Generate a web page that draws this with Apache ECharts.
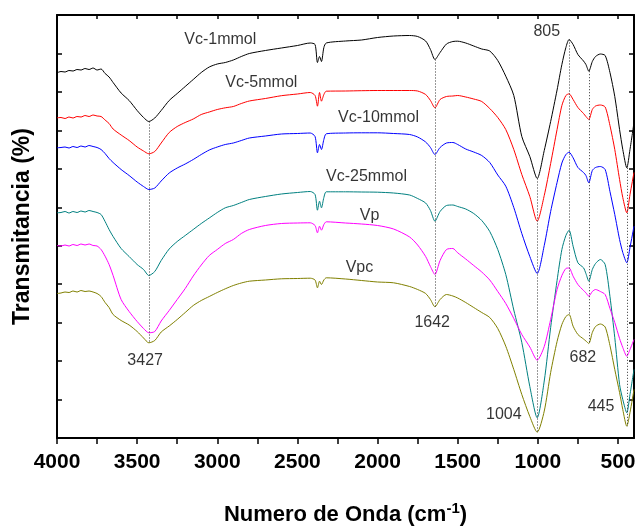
<!DOCTYPE html>
<html>
<head>
<meta charset="utf-8">
<script src="https://cdn.jsdelivr.net/npm/echarts@6/dist/echarts.min.js"></script>
<style>
  html, body { margin: 0; padding: 0; background: #fff; }
  #chart { width: 636px; height: 528px; }
</style>
</head>
<body>
<div id="chart"></div>
<script>
// wavenumber grid (cm-1), shared by every spectrum
const wavenumbers = [
  4000, 3975, 3950, 3925, 3900, 3875, 3850, 3825, 3800, 3775, 3750, 3725, 3700, 3675, 3650,
  3600, 3550, 3500, 3460, 3427,
  3390, 3350, 3300, 3250, 3200, 3150, 3100, 3050, 3000,
  2950, 2900, 2850, 2800, 2700, 2600, 2500,
  2420, 2390, 2375, 2362, 2350, 2335, 2320,
  2200, 2100, 2000, 1900, 1800, 1750, 1700, 1670, 1642,
  1610, 1570, 1530, 1500, 1450, 1400, 1350, 1300, 1250, 1200,
  1150, 1100, 1050, 1004, 960, 920, 880, 850, 825, 805,
  780, 750, 715, 700, 682, 660, 640, 610, 580, 550,
  520, 490, 470, 445, 425, 400
];

// transmittance, offset curves (arbitrary units)
const vc1 = [
  365.2, 366.5, 366, 367.5, 367, 368.5, 368, 369.5, 368.5, 370, 368, 369, 364.5, 361, 355.5,
  345, 337.5, 327.5, 320.5, 316.5,
  320, 327.5, 337.5, 344.5, 351.5, 358.5, 365.5, 371, 374,
  375.5, 378, 381.5, 384.5, 387.5, 390, 392.5,
  395, 393.5, 375.5, 381.5, 376.5, 390.5, 395,
  397, 398, 400.5, 402, 402.5, 401.5, 397, 388.5, 378.5,
  385.5, 394, 396.5, 396.8, 395, 392, 389, 387, 377.5, 361.8,
  342.5, 301.5, 281.5, 259.5, 287.5, 316.5, 348, 373.5, 390.5, 398.5,
  393.5, 383.5, 377, 373.5, 366.8, 376.5, 381.5, 384, 382.5, 365.5,
  341.5, 308.5, 288.5, 270.2, 288.5, 315.5
];
const vc5 = [
  320.2, 320.5, 319.5, 321, 320, 321.5, 321, 322.5, 321.5, 323, 322, 321.5, 318, 314.5, 309,
  303, 297.5, 291, 287, 284.2,
  286.5, 295, 305.5, 311.5, 315.5, 319, 323.5, 326, 328.5,
  330.2, 331.5, 334.5, 337, 339.5, 342.3, 344,
  345.5, 342.5, 331.8, 345.5, 336.8, 343.5, 346.8,
  347, 347.3, 347.5, 347.5, 347.5, 347, 343.5, 337.5, 330.2,
  338.5, 341.5, 342, 342.5, 341, 339, 336.5, 329.5, 320.5, 308.5,
  288.5, 263.5, 241.5, 216.8, 242.5, 274.5, 308.5, 332.5, 342.5, 344.2,
  338.5, 330.5, 324.5, 321.5, 318.5, 328.5, 332, 333, 331, 312.5,
  288.5, 258.5, 240.5, 225.2, 243.5, 265.5
];
const vc10 = [
  290.2, 290.5, 291, 290, 291.5, 290.5, 292, 291, 292.5, 291.5, 290.5, 288.5, 284.5, 279.5, 275.5,
  268.5, 262.5, 256, 251.5, 248.5,
  250, 257, 265, 270, 274, 278.5, 283.5, 288, 291,
  293.5, 295, 297.5, 300, 302, 304, 304.5,
  305, 301.5, 285.2, 293.5, 288.5, 298.5, 304.2,
  305, 305.2, 305.2, 304.5, 303.5, 301, 296, 290.5, 283.5,
  290.5, 295, 295.5, 293.5, 289, 286, 282.5, 275.5, 263, 251.8,
  230.5, 204.5, 181.5, 164.5, 192.5, 226.5, 255.5, 275, 283.5, 285.8,
  280.2, 270.5, 265.5, 262.5, 255.2, 267.5, 270.5, 271.5, 268.5, 246.5,
  223.5, 198.5, 185.5, 175.2, 190.5, 211.8
];
const vc25 = [
  225.2, 225.5, 226.5, 225, 226.5, 225.5, 227, 226, 227.5, 226.5, 225.5, 223.5, 216.5, 208.5, 201.5,
  189.5, 181.5, 173.5, 168.5, 162.5,
  166.5, 177.5, 189, 196.5, 202.5, 208.5, 214.5, 220, 225.5,
  230.2, 232.5, 235.5, 238.5, 241.5, 244, 245.5,
  246.5, 243.5, 227.8, 236.8, 230.2, 240.5, 246.2,
  246.2, 246, 245.8, 245, 243, 239.5, 235, 227.5, 216.8,
  226.5, 232.5, 233, 231.5, 229, 224.5, 217.5, 206.5, 188.5, 163.5,
  128, 95.5, 51.5, 20.2, 57, 110.5, 157.5, 188.5, 202.5, 207.8,
  191.8, 175.2, 170.2, 164.5, 156.8, 168.5, 174.5, 178.5, 173.5, 141.5,
  100.5, 53.5, 38.5, 25.2, 43.5, 68.5
];
const vp = [
  192.5, 192, 193, 192, 193.5, 192.5, 194, 193, 194, 192.5, 192, 188.5, 181.8, 173.5, 162.5,
  138.5, 126.5, 116.5, 109.5, 105.2,
  106.5, 117, 127.5, 138.5, 149.5, 162, 173, 182.5, 188.5,
  194.5, 198.5, 204.5, 208.5, 212.5, 214.5, 215,
  215.2, 212.5, 205.2, 211.8, 207.8, 213.5, 216.2,
  215, 214, 212.5, 209, 201, 193, 181.5, 171.5, 163.5,
  177.5, 188.5, 189.5, 185.2, 179, 172.5, 166, 158, 146.5, 134.5,
  119.5, 103.5, 91, 77.8, 91.5, 118.5, 148.5, 162.5, 169.5, 170,
  161.8, 153.5, 147.5, 145.2, 141.8, 146.5, 148.5, 146.5, 143.5, 129.5,
  115.5, 99.5, 90.5, 81.8, 88.5, 98.5
];
const vpc = [
  144.5, 145, 146, 145.5, 147, 146, 147.5, 146.5, 147, 146, 144.5, 141.5, 135.5, 130.5, 123.5,
  117.5, 113, 106.5, 100, 95.2,
  97.5, 106, 112, 118.5, 125.5, 132.5, 137.5, 141.5, 145.5,
  149.2, 152.5, 155, 156.8, 158, 159.2, 159.5,
  159.8, 158, 150.2, 156.8, 153.5, 158, 160.2,
  159, 157.5, 156, 155.2, 151.5, 148.5, 144.5, 138.5, 131.2,
  138.5, 143.5, 142, 140, 135.5, 130.5, 125.5, 120.5, 109.5, 91.8,
  68.5, 43.5, 21.5, 5.8, 26.9, 65.5, 96.5, 113.5, 121.5, 123.5,
  111.8, 103.5, 99, 97, 94.5, 105.5, 111.5, 114, 111, 92.5,
  68.5, 45.5, 28.5, 11.8, 25.5, 48.5
];

const curveNames = ["Vc-1mmol", "Vc-5mmol", "Vc-10mmol", "Vc-25mmol", "Vp", "Vpc"];
const curveNameAt = [[2981, 398.5], [2725, 355.5], [1994, 320.5], [2069, 261.8], [2050, 222.5], [2113, 170.8]];
const peaks = [3427, 1642, 1004, 805, 682, 445];
const peakLabelAt = [[3450, 77.5], [1659, 115.2], [1212, 23.5], [944, 406.2], [719, 80.2], [606, 31.8]];

const xMajorTicks = [500, 1000, 1500, 2000, 2500, 3000, 3500, 4000];
const xAllTicks = [500, 750, 1000, 1250, 1500, 1750, 2000, 2250, 2500, 2750, 3000, 3250, 3500, 3750, 4000];

const curves = [vc1, vc5, vc10, vc25, vp, vpc];
const curveColors = ["#000000", "#ff0000", "#0000ff", "#008080", "#ff00ff", "#808000"];

const FONT = '"Liberation Sans", Arial, sans-serif';
const yMax = 423;
const black = "#000";

const chart = echarts.init(document.getElementById("chart"));

const series = curves.map((vals, i) => ({
  type: "line",
  name: curveNames[i],
  data: wavenumbers.map((w, j) => [w, vals[j]]),
  symbol: "none",
  smooth: 0.25,
  lineStyle: { color: curveColors[i], width: 1 },
  silent: true,
  z: 3,
}));

// dotted guide lines from the top spectrum down to the bottom one
series.push({
  type: "line",
  data: [],
  silent: true,
  markLine: {
    silent: true,
    symbol: ["none", "none"],
    label: { show: false },
    lineStyle: { color: "#333", type: [1, 2], width: 1 },
    data: peaks.map((p) => {
      const k = wavenumbers.indexOf(p);
      return [{ coord: [p, vc1[k]] }, { coord: [p, vpc[k]] }];
    }),
  },
  z: 2,
});

const labelStyle = {
  show: true,
  position: "inside",
  formatter: "{b}",
  color: black,
  fontSize: 16,
  fontFamily: FONT,
};

series.push({
  type: "scatter",
  symbolSize: 1,
  itemStyle: { color: "rgba(0,0,0,0)" },
  silent: true,
  label: labelStyle,
  data: curveNames.map((n, i) => ({ name: n, value: curveNameAt[i] })),
});
series.push({
  type: "scatter",
  symbolSize: 1,
  itemStyle: { color: "rgba(0,0,0,0)" },
  silent: true,
  label: labelStyle,
  data: peaks.map((p, i) => ({ name: String(p), value: peakLabelAt[i] })),
});

const axisLine = { show: true, onZero: false, lineStyle: { color: black, width: 2 } };

chart.setOption({
  animation: false,
  backgroundColor: "#fff",
  grid: { left: 57, right: 2, top: 15, bottom: 90, outerBoundsMode: "none" },
  xAxis: [
    {
      type: "value",
      position: "bottom",
      inverse: true,
      min: 400,
      max: 4000,
      axisLine: axisLine,
      axisTick: { show: true, inside: false, length: 6, customValues: xAllTicks, lineStyle: { color: black, width: 1.5 } },
      axisLabel: {
        show: true,
        customValues: xMajorTicks,
        formatter: (v) => String(v),
        margin: 14,
        color: black,
        fontSize: 21,
        fontWeight: "bold",
        fontFamily: FONT,
      },
      splitLine: { show: false },
      name: "{b|Numero de Onda (cm}{sup|-1}{b|)}",
      nameLocation: "middle",
      nameGap: 63,
      nameTextStyle: {
        color: black,
        fontFamily: FONT,
        rich: {
          b: { fontSize: 22, fontWeight: "bold", lineHeight: 27, color: black, fontFamily: FONT },
          sup: { fontSize: 15, fontWeight: "bold", lineHeight: 15, verticalAlign: "top", color: black, fontFamily: FONT },
        },
      },
    },
    {
      type: "value",
      position: "top",
      inverse: true,
      min: 400,
      max: 4000,
      axisLine: axisLine,
      axisTick: { show: true, inside: true, length: 4, customValues: xAllTicks, lineStyle: { color: black, width: 1.5 } },
      axisLabel: { show: false },
      splitLine: { show: false },
    },
  ],
  yAxis: [
    {
      type: "value",
      position: "left",
      min: 0,
      max: yMax,
      interval: yMax / 11,
      axisLine: axisLine,
      axisTick: { show: true, inside: true, length: 5, lineStyle: { color: black, width: 1.5 } },
      axisLabel: { show: false },
      splitLine: { show: false },
      name: "Transmitancia (%)",
      nameLocation: "middle",
      nameRotate: 90,
      nameGap: 23,
      nameTextStyle: { color: black, fontSize: 23, fontWeight: "bold", fontFamily: FONT },
    },
    {
      type: "value",
      position: "right",
      min: 0,
      max: yMax,
      interval: yMax / 11,
      axisLine: axisLine,
      axisTick: { show: true, inside: true, length: 5, lineStyle: { color: black, width: 1.5 } },
      axisLabel: { show: false },
      splitLine: { show: false },
    },
  ],
  series: series,
});
</script>
</body>
</html>
